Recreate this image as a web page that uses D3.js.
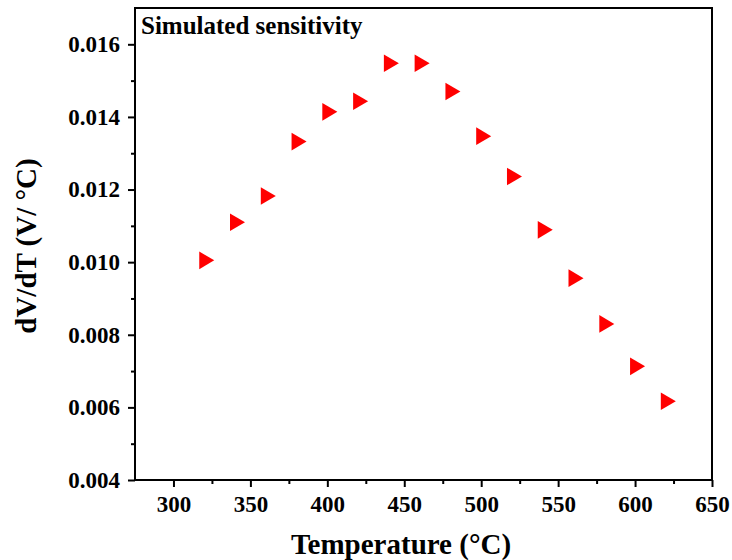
<!DOCTYPE html>
<html>
<head>
<meta charset="utf-8">
<script src="https://cdn.jsdelivr.net/npm/d3@7"></script>
<style>
  html, body { margin: 0; padding: 0; background: #fff; }
  svg { display: block; }
  text { font-family: "Liberation Serif", "Times New Roman", serif !important; font-weight: bold; fill: #000; }
</style>
</head>
<body>
<svg id="chart" width="732" height="560"></svg>
<script>
// Simulated sensor sensitivity vs. temperature
const temperatures = [320, 340, 360, 380, 400, 420, 440, 460, 480, 500, 520, 540, 560, 580, 600, 620];
const sensitivity = [0.01005, 0.01110, 0.01182, 0.01332, 0.01414, 0.01443, 0.01548, 0.01548,
                     0.01470, 0.01347, 0.01236, 0.01089, 0.00956, 0.00830, 0.00713, 0.00617];
const xTicks = [300, 350, 400, 450, 500, 550, 600, 650];
const yTicks = [0.004, 0.006, 0.008, 0.010, 0.012, 0.014, 0.016];
const xMinor = [325, 375, 425, 475, 525, 575, 625];
const yMinor = [0.005, 0.007, 0.009, 0.011, 0.013, 0.015];

const svg = d3.select("#chart");
const m = { left: 135, right: 712, top: 8, bottom: 480 };

const x = d3.scaleLinear().domain([275, 650]).range([m.left, m.right]);
const y = d3.scaleLinear().domain([0.004, 0.017]).range([m.bottom, m.top]);

// frame
svg.append("rect")
  .attr("x", m.left).attr("y", m.top)
  .attr("width", m.right - m.left).attr("height", m.bottom - m.top)
  .attr("fill", "none").attr("stroke", "#000").attr("stroke-width", 2);

// bottom axis
const xAxis = svg.append("g").attr("transform", `translate(0,${m.bottom})`)
  .call(d3.axisBottom(x).tickValues(xTicks).tickFormat(d3.format("d")).tickSize(7).tickPadding(9));
svg.append("g").attr("transform", `translate(0,${m.bottom})`)
  .call(d3.axisBottom(x).tickValues(xMinor).tickFormat("").tickSize(4));

// left axis
const yAxis = svg.append("g").attr("transform", `translate(${m.left},0)`)
  .call(d3.axisLeft(y).tickValues(yTicks).tickFormat(d3.format(".3f")).tickSize(7).tickPadding(8));
svg.append("g").attr("transform", `translate(${m.left},0)`)
  .call(d3.axisLeft(y).tickValues(yMinor).tickFormat("").tickSize(4));

svg.selectAll(".domain").remove();
svg.selectAll(".tick line").attr("stroke", "#000").attr("stroke-width", 2);
[xAxis, yAxis].forEach(a => a.selectAll("text")
  .style("font-family", "'Liberation Serif', serif")
  .style("font-weight", "bold")
  .style("font-size", "23px")
  .attr("fill", "#000"));

// markers: right-pointing triangles centred on each point
const tri = "M-5,-8.8L10,0L-5,8.8Z";
svg.append("g").selectAll("path")
  .data(temperatures)
  .join("path")
  .attr("d", tri)
  .attr("fill", "#ff0000")
  .attr("transform", (d, i) => `translate(${x(d)},${y(sensitivity[i])})`);

// labels
svg.append("text")
  .attr("x", 141).attr("y", 34)
  .style("font-size", "25px")
  .text("Simulated sensitivity");

svg.append("text")
  .attr("x", 401).attr("y", 554)
  .attr("text-anchor", "middle")
  .style("font-size", "29px")
  .text("Temperature (°C)");

svg.append("text")
  .attr("transform", "translate(36,246) rotate(-90)")
  .attr("text-anchor", "middle")
  .style("font-size", "29px")
  .text("dV/dT (V/ °C)");
</script>
</body>
</html>
